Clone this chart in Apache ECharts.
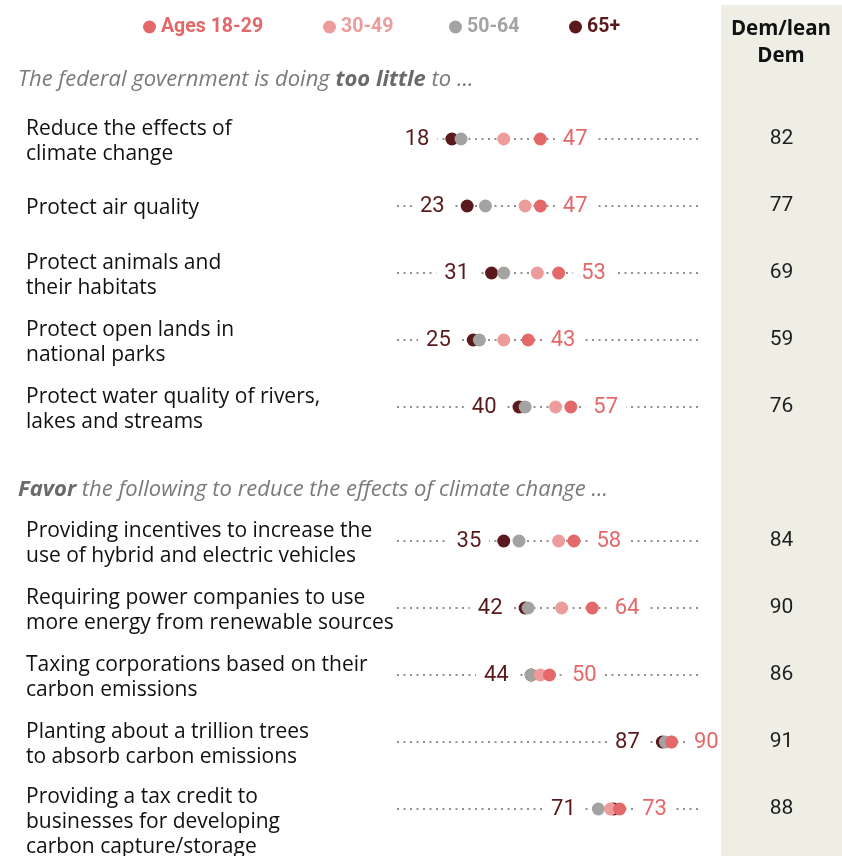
<!DOCTYPE html>
<html>
<head>
<meta charset="utf-8">
<script src="https://cdn.jsdelivr.net/npm/echarts@6/dist/echarts.min.js"></script>
<style>
  html, body { margin: 0; padding: 0; background: #fff; }
  #chart { width: 842px; height: 856px; }
</style>
</head>
<body>
<div id="chart"></div>
<script>
// rows, top section then bottom section
const questions = [
  "Reduce the effects of\nclimate change",
  "Protect air quality",
  "Protect animals and\ntheir habitats",
  "Protect open lands in\nnational parks",
  "Protect water quality of rivers,\nlakes and streams",
  "Providing incentives to increase the\nuse of hybrid and electric vehicles",
  "Requiring power companies to use\nmore energy from renewable sources",
  "Taxing corporations based on their\ncarbon emissions",
  "Planting about a trillion trees\nto absorb carbon emissions",
  "Providing a tax credit to\nbusinesses for developing\ncarbon capture/storage"
];
const ages18to29 = [47, 47, 53, 43, 57, 58, 64, 50, 90, 73];
const ages30to49 = [35, 42, 46, 35, 52, 53, 54, 47, 90, 70];
const ages50to64 = [21, 29, 35, 27, 42, 40, 43, 44, 88, 66];
const ages65plus = [18, 23, 31, 25, 40, 35, 42, 44, 87, 71];
const demLean = [82, 77, 69, 59, 76, 84, 90, 86, 91, 88];

const groupNames = ["Ages 18-29", "30-49", "50-64", "65+"];
const groupColors = ["#e4686a", "#ee9c9b", "#a3a3a1", "#5a1a1c"];
const legendLefts = [138, 318, 444, 564];

const font = "Roboto";
const textFont = "Open Sans";

// blank slot between the two sections
const rows = questions.slice(0, 5).concat([""], questions.slice(5));

// 3-line labels hang from the row like the 2-line ones do
const rowLabel = (v) => {
  if (!v) return "";
  const lines = v.split("\n");
  const spacer = lines.length > 2 ? "{s3| }" : "{s| }";
  return spacer + "\n" + lines.map((l) => "{t|" + l + "}").join("\n");
};

const chart = echarts.init(document.getElementById("chart"));

const toPts = (vals) => vals.map((v, i) => [v, questions[i]]);
const lowVals = questions.map((q, i) =>
  Math.min(ages18to29[i], ages30to49[i], ages50to64[i], ages65plus[i]));
const highVals = questions.map((q, i) =>
  Math.max(ages18to29[i], ages30to49[i], ages50to64[i], ages65plus[i]));

const dotSeries = (idx, vals) => ({
  name: groupNames[idx],
  type: "scatter",
  xAxisIndex: 0,
  yAxisIndex: 0,
  symbolSize: 13,
  z: 3,
  itemStyle: { color: groupColors[idx], opacity: 1 },
  data: toPts(vals),
});

const titleRich = {
  i: { fontFamily: textFont, fontStyle: "italic", fontSize: 22, fill: "#7a7a7a" },
  b: { fontFamily: textFont, fontStyle: "italic", fontWeight: "bold", fontSize: 22, fill: "#6a6a6a" },
};

const option = {
  animation: false,
  textStyle: { fontFamily: font },
  legend: groupNames.map((n, i) => ({
    top: 12,
    left: legendLefts[i],
    icon: "circle",
    itemWidth: 13,
    itemHeight: 13,
    selectedMode: false,
    textStyle: { fontSize: 19.5, fontWeight: "bold", fontFamily: font, color: groupColors[i] },
    data: [n],
  })),
  graphic: [
    { type: "rect", z: 10, shape: { x: 721, y: 5, width: 121, height: 851 }, style: { fill: "#efeee4" } },
    {
      type: "text", x: 781, y: 16, z: 20,
      style: { text: "Dem/lean\nDem", textAlign: "center", fontFamily: textFont, fontWeight: "bold",
        fontSize: 20.5, lineHeight: 27, fill: "#111" },
    },
    {
      type: "text", x: 18, y: 69,
      style: { text: "{i|The federal government is doing }{b|too little}{i| to ...}", rich: titleRich },
    },
    {
      type: "text", x: 18, y: 479,
      style: { text: "{b|Favor}{i| the following to reduce the effects of climate change ...}", rich: titleRich },
    },
  ],
  grid: [
    { left: 397, right: 140, top: 105.5, bottom: 13.5, outerBoundsMode: "none", containLabel: false },
    { left: 721, right: 0, top: 105.5, bottom: 13.5, outerBoundsMode: "none", containLabel: false },
  ],
  xAxis: [
    { gridIndex: 0, type: "value", min: 0, max: 100, show: false },
    { gridIndex: 1, type: "value", min: 0, max: 1, show: false },
  ],
  yAxis: [
    {
      gridIndex: 0, type: "category", data: rows, inverse: true,
      axisLine: { show: false }, axisTick: { show: false }, splitLine: { show: false },
      axisLabel: {
        interval: 0, align: "left", margin: 371, formatter: rowLabel,
        rich: {
          t: { fontFamily: textFont, fontSize: 21, lineHeight: 25, color: "#111", align: "left" },
          s: { fontSize: 4, lineHeight: 5 },
          s3: { fontSize: 4, lineHeight: 27 },
        },
      },
    },
    { gridIndex: 1, type: "category", data: rows, inverse: true, show: false },
  ],
  series: [
    {
      type: "custom",
      xAxisIndex: 0,
      yAxisIndex: 0,
      z: 1,
      silent: true,
      encode: { x: [0, 1], y: 2 },
      data: questions.map((q) => [0, 100, q]),
      renderItem: function (params, api) {
        const a = api.coord([api.value(0), api.value(2)]);
        const b = api.coord([api.value(1), api.value(2)]);
        return {
          type: "line",
          shape: { x1: a[0], y1: a[1], x2: b[0], y2: b[1] },
          style: { stroke: "#6e6e6e", lineWidth: 1.6, lineDash: [2, 4.5] },
        };
      },
    },
    dotSeries(3, ages65plus),
    dotSeries(2, ages50to64),
    dotSeries(1, ages30to49),
    dotSeries(0, ages18to29),
    {
      // 65+ value next to the leftmost dot
      type: "scatter",
      xAxisIndex: 0, yAxisIndex: 0,
      symbolSize: 13, z: 4, silent: true,
      itemStyle: { color: "rgba(0,0,0,0)", opacity: 1 },
      data: toPts(lowVals),
      label: {
        show: true, position: "left", distance: 8, opacity: 1,
        formatter: (p) => String(ages65plus[p.dataIndex]),
        color: "#5a1a1c", fontSize: 22, fontFamily: font,
        backgroundColor: "#fff", padding: [5, 8, 3, 8],
      },
    },
    {
      // 18-29 value next to the rightmost dot
      type: "scatter",
      xAxisIndex: 0, yAxisIndex: 0,
      symbolSize: 13, z: 4, silent: true,
      itemStyle: { color: "rgba(0,0,0,0)", opacity: 1 },
      data: toPts(highVals),
      label: {
        show: true, position: "right", distance: 8, opacity: 1,
        formatter: (p) => String(ages18to29[p.dataIndex]),
        color: "#e4686a", fontSize: 22, fontFamily: font,
        backgroundColor: "#fff", padding: [5, 8, 3, 8],
      },
    },
    {
      type: "scatter",
      xAxisIndex: 1, yAxisIndex: 1,
      symbolSize: 1, silent: true, z: 20,
      itemStyle: { color: "rgba(0,0,0,0)", opacity: 1 },
      data: demLean.map((v, i) => [0.5, questions[i], v]),
      label: {
        show: true, position: "inside", opacity: 1,
        formatter: (p) => String(p.value[2]),
        color: "#1e1e1e", fontSize: 21, fontFamily: font,
      },
    },
  ],
};

chart.setOption(option);
</script>
</body>
</html>
